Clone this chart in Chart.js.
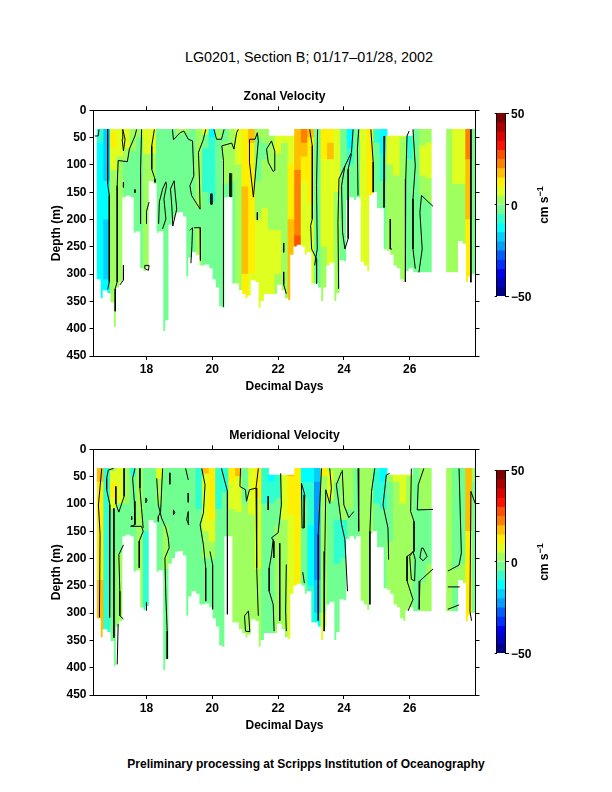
<!DOCTYPE html>
<html><head><meta charset="utf-8">
<script src="https://cdn.jsdelivr.net/npm/chart.js@4"></script>
<style>
html,body{margin:0;padding:0;background:#fff;width:612px;height:792px;overflow:hidden}
canvas{position:absolute}
.t{position:absolute;left:0;width:612px;text-align:center;font-family:"Liberation Sans",sans-serif;color:#000;white-space:nowrap}
.u{position:absolute;width:60px;height:20px;line-height:20px;text-align:center;font:bold 12px/20px "Liberation Sans",sans-serif;color:#000;transform:rotate(-90deg);white-space:nowrap}
.u sup{font-size:9px;line-height:0}
</style></head><body>
<div class="t" style="top:49px;left:3px;font-size:14.35px;">LG0201, Section B; 01/17&#8211;01/28, 2002</div>
<div class="t" style="top:757px;font-size:12px;font-weight:bold;">Preliminary processing at Scripps Institution of Oceanography</div>
<div style="position:absolute;left:0;top:81px;width:569px;height:313px"><canvas id="c1"></canvas></div>
<div style="position:absolute;left:0;top:420px;width:569px;height:313px"><canvas id="c2"></canvas></div>
<div style="position:absolute;left:480px;top:100px;width:132px;height:210px"><canvas id="b1"></canvas></div>
<div style="position:absolute;left:480px;top:457px;width:132px;height:210px"><canvas id="b2"></canvas></div>
<div class="u" style="left:514px;top:195px">cm s<sup>&#8722;1</sup></div>
<div class="u" style="left:514px;top:552px">cm s<sup>&#8722;1</sup></div>
<script>
const colorLevels=[-50,-45,-40,-35,-30,-25,-20,-15,-10,-5,0,5,10,15,20,25,30,35,40,45];
const levelColors=['#00008f','#0000bf','#0000ef','#0030ff','#0060ff','#009fff','#00cfff','#00ffff','#30ffcf','#70ff90','#9fff5f','#dfff20','#ffef00','#ffbf00','#ff8000','#ff5000','#ff1000','#df0000','#af0000','#7f0000'];
const xTicks=[18,20,22,24,26];
const depthTicks=[0,50,100,150,200,250,300,350,400,450];
const columnDays=[16.5,16.7,16.9,17.1,17.3,17.5,17.7,17.9,18.1,18.3,18.5,18.7,18.9,19.1,19.3,19.5,19.7,19.9,20.1,20.3,20.5,20.7,20.9,21.1,21.3,21.5,21.7,21.9,22.1,22.3,22.5,22.7,22.9,23.1,23.3,23.5,23.7,23.9,24.1,24.3,24.5,24.7,24.9,25.1,25.3,25.5,25.7,25.9,26.1,26.3,26.5,26.7,26.9,27.1,27.3,27.5,27.7,27.9];
const columnTop=[35,35,35,35,35,35,35,35,35,35,35,35,35,35,35,35,35,35,35,35,35,35,35,35,35,35,47,47,47,47,35,35,35,35,35,35,35,35,35,35,35,35,35,35,47,47,47,47,35,35,35,35,35,35,35,35,35,35];
// each column: velocity, depth it reaches, velocity, depth it reaches ...
const zonalCols=[
[-7,60,-12,420],[-17,130,-12,200,-17,310,-12,420],[8,40,13,70,8,110,3,420],[8,85,3,420],[8,70,3,92,-2,420],[3,75,-2,420],[3,50,-2,420],[8,80,3,420],[8,80,3,420],[-2,420],
[-2,420],[-2,300,3,420],[3,45,-2,420],[3,42,-2,420],[-2,420],[3,180,-2,215,3,285,-2,420],[8,45,-2,70,-7,150,-2,420],[-12,50,-7,170,-2,420],[3,52,-2,420],[-2,60,3,135,-2,420],
[3,130,-2,420],[8,100,3,420],[13,140,18,300,13,420],[18,60,13,300,8,420],[3,50,-2,130,3,200,8,420],[3,60,-2,90,3,180,8,420],[3,220,8,420],[8,80,3,220,8,300,3,420],[8,60,3,420],[8,100,13,200,18,420],
[18,110,23,230,28,420],[23,60,18,85,13,130,8,420],[18,50,13,170,8,420],[-2,420],[13,90,8,250,3,420],[13,60,18,90,8,420],[8,150,3,420],[-2,420],[-12,70,-7,100,-2,250,3,420],[-2,420],
[8,420],[13,160,8,420],[-7,60,-2,420],[-12,80,-7,130,-2,420],[8,100,3,420],[8,120,3,420],[8,50,3,420],[-7,90,-2,420],[-2,420],[3,65,8,120,3,155,-2,420],
[3,60,8,125,3,170,-2,420],[3,60,8,125,3,175,-2,420],[3,420],[3,420],[8,135,3,420],[8,135,3,420],[23,90,18,200,13,420],[-2,420]];
const meridionalCols=[
[18,60,13,240,18,420],[-7,420],[3,40,8,60,13,90,8,110,-2,420],[8,100,-2,190,3,420],[3,100,-2,420],[-7,50,-2,420],[3,420],[-2,150,-7,420],[-2,420],[8,55,3,100,-2,420],
[-2,140,3,220,-2,420],[-2,295,3,420],[-2,420],[-2,420],[-2,300,3,420],[-7,110,-2,420],[18,45,8,150,3,200,-2,420],[13,130,8,170,3,200,-2,420],[-7,110,-2,420],[-7,80,-2,420],
[13,60,8,110,3,420],[18,50,8,115,3,420],[-2,100,3,420],[8,120,3,420],[13,90,8,220,3,420],[-7,100,-2,420],[-12,60,-7,100,-2,420],[-7,90,-2,140,3,420],[8,130,3,420],[18,50,13,120,8,420],
[13,420],[-12,60,-7,90,-2,420],[-12,60,-7,140,-12,250,-7,420],[-17,60,-22,240,-17,300,-12,420],[13,50,3,300,8,420],[3,40,8,95,-2,420],[3,60,-2,130,-7,210,-2,420],[3,130,-7,200,-2,420],[3,110,-2,420],[-2,420],
[3,420],[3,420],[-7,100,-2,420],[-12,60,-7,110,-2,420],[3,60,-2,170,3,420],[8,60,3,420],[8,100,3,420],[8,50,3,420],[-2,420],[3,110,-2,245,3,420],
[3,110,-2,210,3,420],[3,110,-2,220,3,420],[3,420],[3,420],[-2,220,3,250,-2,420],[-2,210,3,250,-2,420],[18,150,13,420],[3,60,-2,420]];
const profileDays=[16.4,16.5,16.6,16.7,16.8,16.9,17,17.1,17.2,17.3,17.4,17.5,17.6,17.7,17.8,17.9,18,18.1,18.2,18.3,18.4,18.5,18.6,18.7,18.8,18.9,19,19.1,19.2,19.3,19.4,19.5,19.6,19.7,19.8,19.9,20,20.1,20.2,20.3,20.4,20.5,20.6,20.7,20.8,20.9,21,21.1,21.2,21.3,21.4,21.5,21.6,21.7,21.8,21.9,22,22.1,22.2,22.3,22.4,22.5,22.6,22.7,22.8,22.9,23,23.1,23.2,23.3,23.4,23.5,23.6,23.7,23.8,23.9,24,24.1,24.2,24.3,24.4,24.5,24.6,24.7,24.8,24.9,25,25.1,25.2,25.3,25.4,25.5,25.6,25.7,25.8,25.9,26,26.1,26.2,26.3,26.4,26.5,26.6,26.7,26.8,26.9,27,27.1,27.2,27.3,27.4,27.5,27.6,27.7,27.8,27.9,28];
const profileDepth=[363,315,310,345,330,335,352,397,325,315,160,157,160,225,222,290,295,288,130,135,225,222,405,385,210,200,188,187,195,305,270,260,265,285,285,283,290,310,325,360,362,160,160,318,318,330,337,345,340,312,315,362,350,337,337,337,337,320,330,345,348,265,250,247,250,265,260,318,318,325,350,325,285,280,350,335,275,277,165,160,165,160,278,285,295,155,150,180,180,255,258,265,285,290,310,315,295,290,297,297,297,297,297,297,0,0,0,0,297,297,297,297,240,245,315,305,300];
// zero-velocity contours: day, depth, day, depth ...
const zonalContours=[
[16.43,47,16.53,47,16.56,35],[16.82,35,16.82,135,16.87,156,16.87,314,16.82,328],
[17.7,35,17.65,47,17.48,71,17.42,94,17.14,92,17.11,138,17.11,314,17.05,327,17.05,368],
[17.28,35,17.35,53,17.3,74,17.26,53,17.28,35],[17.3,132,17.3,141],[17.65,145,17.65,151],[17.3,284,17.3,311,17.19,320],
[17.85,35,17.82,114,17.82,208],[18,208,18,185,18.08,168],[18.24,35,18.16,65,18.16,108,18.26,126,18.26,132],
[17.95,284,18.08,284,18.06,293,17.95,290,17.95,284],
[18.37,208,18.39,168,18.49,144,18.59,131,18.61,138,18.53,162,18.59,199,18.49,217],
[18.8,212,18.92,181,18.87,150,18.84,129,18.73,144,18.77,175,18.8,212],
[18.79,35,18.82,54,19.02,41,19.14,38,19.27,53,19.4,56,19.44,120,19.32,138,19.37,156,19.63,181,19.61,126,19.58,77,19.73,53,19.8,35],
[19.32,220,19.4,215,19.38,250,19.35,280],[19.45,215,19.63,215,19.64,275],
[20.05,35,20.13,53,20.28,53,20.36,35],[19.96,153,19.96,172,20,172,20,153,19.96,153],
[20.34,360,20.34,92,20.29,65,20.59,60,20.66,71,20.74,41,20.79,35],[20.54,115,20.54,158,20.59,158,20.59,115],
[21.13,53,21.3,53,21.37,41,21.4,56,21.25,159,21.13,95,21.13,53],
[21.8,56,21.65,71,21.7,95,21.85,112,21.9,110,21.9,75,21.8,56],[21.37,187,21.37,201],
[22.17,243,22.17,260],[22.17,296,22.17,319,22.25,336],
[22.96,35,23.04,65,23.04,199,22.99,211,23.02,254,23.17,272,23.17,317],[23.2,35,23.17,138,23.19,254,23.11,284],
[24.28,35,24.23,77,24.03,102,23.85,126,23.82,205,23.84,327],[24.45,35,24.41,71,24.43,156],
[24.23,80,24.13,108,24.13,235,24.03,254,23.96,223,23.93,138,24.03,102],
[24.82,35,24.89,95,24.89,150],[25.24,47,25.22,178],[25.41,199,25.41,254,25.46,254],
[25.98,38,25.92,47,25.88,126,25.86,199,25.88,314],[26.1,35,26.17,102,26.1,162,26.1,254,26.17,290],
[26.71,176,26.36,156,26.31,187,26.38,254,26.28,297],[27.86,35,27.86,315]];
const meridionalContours=[
[16.64,35,16.54,102,16.59,156,16.57,308],[17,35,16.84,38,16.79,53,16.79,74,16.89,102,16.89,278,16.87,308],
[17.01,108,17.01,345],[17.32,35,17.32,86,17.16,115,17.07,100],[17.07,68,17.07,100],
[17.3,175,17.16,193,17.19,260,17.19,305,17.3,311],[17.14,320,17.11,394],
[17.65,35,17.58,53,17.63,95,17.65,138,17.52,141,17.85,141,17.9,150,17.78,168,17.78,217],
[17.8,35,17.8,71,17.85,108,17.9,144],[17.55,123,17.55,129],[17.98,89,18.02,93,17.98,98,17.98,89],[18,280,18,295],
[18.31,53,18.36,102,18.46,126,18.59,144,18.66,162,18.69,180,18.56,199,18.59,272,18.63,333,18.63,384],
[18.49,35,18.43,114,18.36,123,18.36,132],[18.71,43,18.71,64],[18.82,111,18.86,116,18.82,120,18.82,111],
[19.19,35,19.27,56],[19.27,80,19.27,97],[19.27,114,19.22,129,19.29,138,19.27,114],
[19.68,35,19.78,65,19.73,117,19.63,138,19.73,175,19.8,217,19.8,278],[19.93,187,20.01,211,20.01,293],
[20.28,35,20.46,77,20.46,302],[20.86,35,20.84,68,21.01,74,21.04,95,21.13,74,21.33,71,21.4,35],
[21.33,71,21.35,217,21.4,305],[21.1,296,20.98,305,21.01,333,21.14,334,21.1,296],[21.7,86,21.7,111],
[21.85,165,21.8,193,21.73,217,21.73,260,21.85,284,21.88,333],
[22.08,44,22.1,102,22,153,21.8,162,21.87,168,21.87,199],[22.05,172,22.05,314],[22.25,211,22.23,296,22.25,333],
[22.71,62,22.81,83,22.79,144,22.73,144,22.71,62],[22.75,225,22.8,245],
[23.32,35,23.22,156,23.22,314],[23.57,35,23.62,71,23.57,99,23.45,74,23.42,187,23.4,333],
[23.93,41,23.77,65,23.93,138,24.03,165,24.11,260],[23.95,38,24,102,24.15,125,24.3,114],
[24.43,35,24.45,150],[24.94,35,24.84,77,24.79,150,24.79,284],[25.39,44,25.29,47,25.19,102,25.34,144,25.36,202],
[26.05,35,26.03,114,26.13,132,26.13,187,25.92,196,25.92,241,26.1,275,25.95,296],
[26.43,35,26.26,65,26.23,111,26.71,110],[26.36,181,26.31,199,26.41,204,26.53,196,26.41,181,26.36,181],
[26,196,26.05,238,26.15,241,26.17,202,26.1,187,26,196],[26.71,219,26.31,241,26.29,293],
[27.5,35,27.57,190,27.5,212,27.16,223],[27.16,252,27.52,252],[27.16,293,27.5,285],[27.86,77,27.83,296,27.88,314],[27.86,77,27.99,99]];

const FONT='"Liberation Sans",sans-serif';
const colorOf=v=>levelColors[Math.min(19,Math.max(0,Math.floor((v+50)/5)))];

function panel(id,title,cols,contours){
  const cells=[],cellColors=[];
  cols.forEach((c,i)=>{
    let top=columnTop[i];
    for(let k=0;k<c.length;k+=2){
      if(c[k+1]>top){cells.push({x:columnDays[i],y:[top,c[k+1]]});cellColors.push(colorOf(c[k]));top=c[k+1];}
    }
  });
  const mask=profileDays.map((d,i)=>({x:d,y:[profileDepth[i],450]}));
  const lines=contours.map(c=>{
    const pts=[];for(let k=0;k<c.length;k+=2)pts.push({x:c[k],y:c[k+1]});
    return {type:'line',data:pts,borderColor:'#000',borderWidth:1,pointRadius:0,fill:false,tension:0,order:0};
  });
  const tickFont={family:FONT,size:12,weight:'bold'};
  const axisCommon={border:{color:'#000',width:1,z:2},grid:{drawOnChartArea:false,color:'#000',tickLength:4,z:2,offset:false}};
  new Chart(document.getElementById(id),{
    type:'bar',
    data:{datasets:[
      ...lines,
      {type:'bar',data:mask,backgroundColor:'#fff',barThickness:4,order:1},
      {type:'bar',data:cells,backgroundColor:cellColors,barThickness:7,order:2}
    ]},
    options:{
      responsive:true,maintainAspectRatio:false,animation:false,devicePixelRatio:1,
      layout:{padding:0},
      plugins:{legend:{display:false},tooltip:{enabled:false},
        title:{display:true,text:title,color:'#000',font:{family:FONT,size:12.2,weight:'bold'},padding:{top:8,bottom:2.7}}},
      scales:{
        x:{type:'linear',position:'bottom',offset:false,min:16.39,max:28,...axisCommon,
          afterBuildTicks:s=>{s.ticks=xTicks.map(v=>({value:v}));},
          afterFit:s=>{s.height=38;},
          ticks:{color:'#000',font:tickFont,maxRotation:0,autoSkip:false,padding:2},
          title:{display:true,text:'Decimal Days',color:'#000',font:{family:FONT,size:12,weight:'bold'},padding:{top:1,bottom:0}}},
        x2:{type:'linear',position:'top',offset:false,min:16.39,max:28,...axisCommon,
          afterBuildTicks:s=>{s.ticks=xTicks.map(v=>({value:v}));},
          afterFit:s=>{s.height=4;},
          ticks:{display:false}},
        y:{type:'linear',position:'left',reverse:true,min:0,max:450,...axisCommon,
          afterBuildTicks:s=>{s.ticks=depthTicks.map(v=>({value:v}));},
          afterFit:s=>{s.width=93.5;},
          ticks:{color:'#000',font:tickFont,padding:3,autoSkip:false},
          title:{display:true,text:'Depth (m)',color:'#000',font:{family:FONT,size:12,weight:'bold'},padding:{top:49,bottom:2}}},
        y2:{type:'linear',position:'right',reverse:true,min:0,max:450,...axisCommon,
          afterBuildTicks:s=>{s.ticks=depthTicks.map(v=>({value:v}));},
          afterFit:s=>{s.width=93.5;},
          ticks:{display:false}}
      }
    }
  });
}
function colorbar(id){
  const cat=['level'];
  new Chart(document.getElementById(id),{
    type:'bar',
    data:{labels:cat,datasets:[{data:colorLevels.map(l=>({x:cat[0],y:[l,l+5]})),backgroundColor:levelColors,barPercentage:1,categoryPercentage:1,borderWidth:0}]},
    options:{
      responsive:true,maintainAspectRatio:false,animation:false,devicePixelRatio:1,
      layout:{padding:{top:13,bottom:14,left:0,right:0}},
      plugins:{legend:{display:false},tooltip:{enabled:false}},
      scales:{
        x:{display:false},
        yl:{position:'left',min:-50,max:50,border:{color:'#000',z:2},grid:{drawOnChartArea:false,color:'#000',tickLength:2,z:2},
          afterBuildTicks:s=>{s.ticks=[-50,0,50].map(v=>({value:v}));},afterFit:s=>{s.width=16.7;},ticks:{display:false}},
        y:{position:'right',min:-50,max:50,border:{color:'#000',z:2},grid:{drawOnChartArea:false,color:'#000',tickLength:3,z:2},
          afterBuildTicks:s=>{s.ticks=[-50,0,50].map(v=>({value:v}));},
          afterFit:s=>{s.width=106;},
          ticks:{color:'#000',font:{family:FONT,size:12,weight:'bold'},padding:2,labelOffset:2,callback:v=>v<0?'\u2212'+Math.abs(v):String(v)}}
      }
    }
  });
}
panel('c1','Zonal Velocity',zonalCols,zonalContours);
panel('c2','Meridional Velocity',meridionalCols,meridionalContours);
colorbar('b1');colorbar('b2');
</script>
</body></html>
